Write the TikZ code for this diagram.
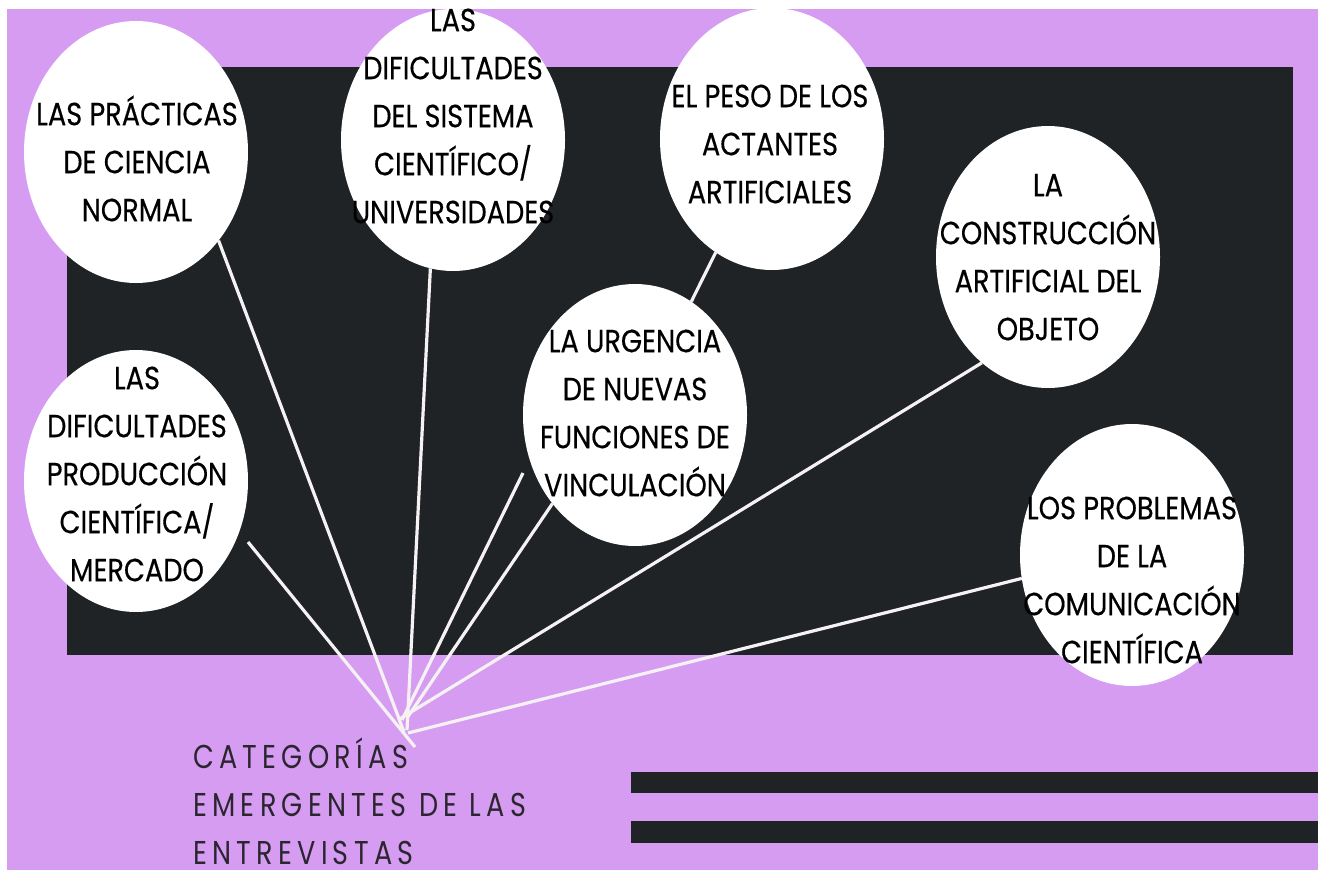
\documentclass[tikz,border=0pt]{standalone}
\usepackage{fontspec}
\setmainfont{Poppins}
\newfontfamily\bubblefont[FakeStretch=0.85,FakeBold=0.4]{Poppins}
\newfontfamily\titlefont[FakeStretch=0.82,LetterSpace=16]{Poppins}
\usetikzlibrary{shapes.geometric}
\definecolor{bgpurple}{HTML}{D59CF2}
\definecolor{panel}{HTML}{1F2326}
\definecolor{ink}{HTML}{2B2530}
\definecolor{linec}{HTML}{F6F2F4}
\newcommand\firststrut{\rule{0pt}{32pt}}
\tikzset{
  bubble/.style={ellipse, fill=white, draw=none, minimum width=224pt, minimum height=262pt, inner sep=0pt, outer sep=0pt},
  btext/.style={anchor=north, align=center, inner sep=0pt, text=black, font=\bubblefont\fontsize{32}{48}\selectfont},
  ttext/.style={anchor=north west, align=left, inner sep=0pt, text=ink, font=\titlefont\fontsize{33}{48}\selectfont},
  link/.style={draw=linec, line width=3.2pt},
  bar/.style={fill=panel, draw=none},
}
\begin{document}
\begin{tikzpicture}[x=1pt, y=-1pt]
\useasboundingbox (0,0) rectangle (1318,870);
\clip (0,0) rectangle (1318,870);
\fill[white] (0,0) rectangle (1318,870);
\fill[bgpurple] (7,9) rectangle (1318,870);
\fill[panel] (67,67) rectangle (1293,655);
\fill[bar] (631,772) rectangle (1318,793);
\fill[bar] (631,821) rectangle (1318,843);

% bubbles
\node[bubble] (e1) at (136,152) {};
\node[bubble] (e2) at (453,140) {};
\node[bubble] (e3) at (772,139) {};
\node[bubble] (e4) at (1048,257) {};
\node[bubble] (e5) at (635,415) {};
\node[bubble] (e6) at (136,481) {};
\node[bubble] (e7) at (1132,555) {};

% hub end points
\coordinate (h1) at (404,732);
\coordinate (h2) at (407,730);
\coordinate (h3) at (415,747);
\coordinate (h4) at (402,720);
\coordinate (h5) at (407,718);
\coordinate (h6) at (398,720);
\coordinate (h7) at (408,733);
\coordinate (s3) at (248,542);
\coordinate (s4) at (523,473);

% connectors
\draw[link] (e1.-47) -- (h1);
\draw[link] (e2.-100) -- (h2);
\draw[link] (s3) -- (h3);
\draw[link] (s4) -- (h4);
\draw[link] (e5.-133) -- (h5);
\draw[link] (e4.-122) -- (h6);
\draw[link] (e7.-168) -- (h7);
\draw[link] (e3) -- (e5);

% texts
\node[btext] (t1) at (137,93) {\firststrut LAS PRÁCTICAS\\DE CIENCIA\\NORMAL};
\node[btext] (t2) at (453,-1) {\firststrut LAS\\DIFICULTADES\\DEL SISTEMA\\CIENTÍFICO/\\UNIVERSIDADES};
\node[btext] (t3) at (770,75) {\firststrut EL PESO DE LOS\\ACTANTES\\ARTIFICIALES};
\node[btext] (t4) at (1048,164) {\firststrut LA\\CONSTRUCCIÓN\\ARTIFICIAL DEL\\OBJETO};
\node[btext] (t5) at (635,320) {\firststrut LA URGENCIA\\DE NUEVAS\\FUNCIONES DE\\VINCULACIÓN};
\node[btext] (t6) at (137,357) {\firststrut LAS\\DIFICULTADES\\PRODUCCIÓN\\CIENTÍFICA/\\MERCADO};
\node[btext] (t7) at (1132,487) {\firststrut LOS PROBLEMAS\\DE LA\\COMUNICACIÓN\\CIENTÍFICA};

\node[ttext] (title) at (193,733) {\rule{0pt}{35pt}CATEGORÍAS\\EMERGENTES DE LAS\\ENTREVISTAS};
\end{tikzpicture}
\end{document}
